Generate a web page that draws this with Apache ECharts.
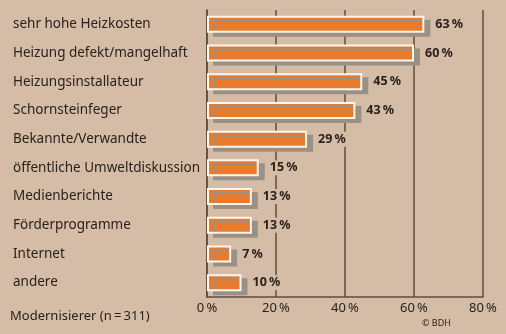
<!DOCTYPE html>
<html>
<head>
<meta charset="utf-8">
<script src="https://cdn.jsdelivr.net/npm/echarts@6/dist/echarts.min.js"></script>
<style>
  html, body { margin: 0; padding: 0; background: #d5bca6; }
  #chart { width: 506px; height: 334px; }
</style>
</head>
<body>
<div id="chart"></div>
<script>
// Gründe für die Modernisierung der Heizung (Anteil der Nennungen in %)
const categories = [
  'sehr hohe Heizkosten',
  'Heizung defekt/mangelhaft',
  'Heizungsinstallateur',
  'Schornsteinfeger',
  'Bekannte/Verwandte',
  'öffentliche Umweltdiskussion',
  'Medienberichte',
  'Förderprogramme',
  'Internet',
  'andere'
];
const shares = [63, 60, 45, 43, 29, 15, 13, 13, 7, 10];
const axisTicks = [0, 20, 40, 60, 80];

const BG = '#d5bca6';
const INK = '#2a211b';
const RULE = '#5c4c3f';

const chart = echarts.init(document.getElementById('chart'), null, { renderer: 'canvas' });

chart.setOption({
  backgroundColor: BG,
  animation: false,
  grid: { left: 207, top: 10, width: 276, height: 287, containLabel: false },
  xAxis: {
    type: 'value',
    min: axisTicks[0],
    max: axisTicks[axisTicks.length - 1],
    interval: axisTicks[1] - axisTicks[0],
    axisLine: { show: true, lineStyle: { color: RULE, width: 1.5 } },
    axisTick: { show: false },
    splitLine: { show: true, lineStyle: { color: RULE, width: 1.5 } },
    axisLabel: {
      color: INK,
      fontFamily: 'Noto Sans',
      fontSize: 13,
      margin: 5,
      formatter: v => v + '\u2009%'
    }
  },
  yAxis: {
    type: 'category',
    data: categories,
    inverse: true,
    axisLine: { show: true, lineStyle: { color: RULE, width: 1.5 } },
    axisTick: { show: false },
    splitLine: { show: false },
    axisLabel: {
      color: INK,
      fontFamily: 'Noto Sans',
      fontSize: 13.5,
      align: 'left',
      margin: 194
    }
  },
  series: [{
    type: 'bar',
    data: shares,
    barWidth: 17,
    itemStyle: {
      color: '#e97b2d',
      borderColor: '#fbf6ee',
      borderWidth: 2,
      shadowColor: '#9c9085',
      shadowBlur: 0,
      shadowOffsetX: 6,
      shadowOffsetY: 4
    },
    label: {
      show: true,
      position: 'right',
      distance: 10,
      color: INK,
      fontFamily: 'Noto Sans',
      fontWeight: 'bold',
      fontSize: 12.5,
      backgroundColor: BG,
      padding: [1, 1],
      formatter: p => p.value + '\u2009%'
    }
  }],
  graphic: [
    {
      type: 'text',
      left: 10,
      top: 310,
      style: {
        text: 'Modernisierer (n\u2009=\u2009311)',
        fill: INK,
        font: '13px "Noto Sans"'
      }
    },
    {
      type: 'text',
      left: 422,
      top: 319,
      style: {
        text: '© BDH',
        fill: INK,
        font: '9px "Noto Sans"'
      }
    }
  ]
});
</script>
</body>
</html>
